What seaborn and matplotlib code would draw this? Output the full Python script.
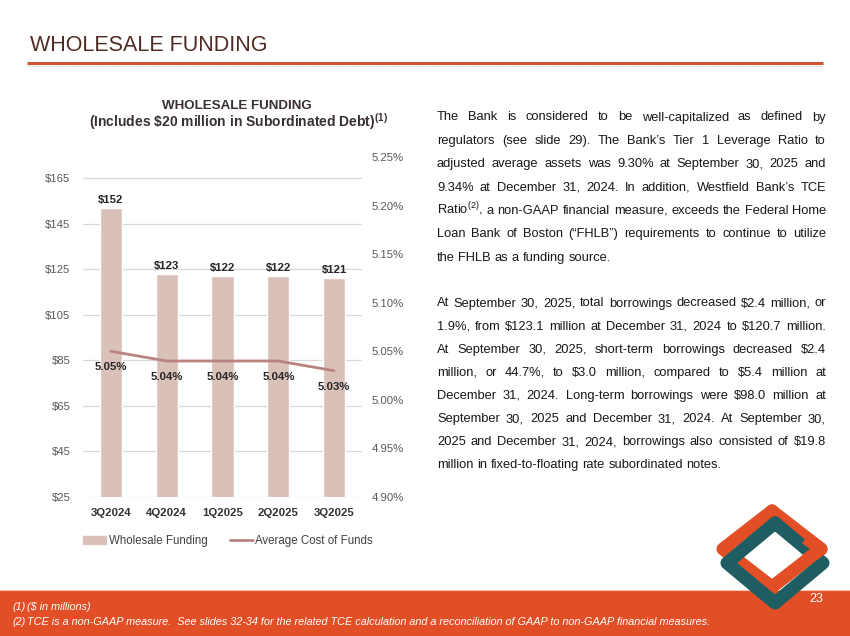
import numpy as np
import pandas as pd
import matplotlib.pyplot as plt
import seaborn as sns
from matplotlib.patches import Rectangle, Patch
from matplotlib.lines import Line2D

# valeurs
quarters = ['3Q2024', '4Q2024', '1Q2025', '2Q2025', '3Q2025']
funding = [152, 123, 122, 122, 121]
cost_of_funds = [5.05, 5.04, 5.04, 5.04, 5.03]
left_ticks = [25, 45, 65, 85, 105, 125, 145, 165]
right_ticks = [4.90, 4.95, 5.00, 5.05, 5.10, 5.15, 5.20, 5.25]

para1 = [
    "The Bank is considered to be well-capitalized as defined by",
    "regulators (see slide 29). The Bank’s Tier 1 Leverage Ratio to",
    "adjusted average assets was 9.30% at September 30, 2025 and",
    "9.34% at December 31, 2024. In addition, Westfield Bank’s TCE",
    "Ratio$^{(2)}$, a non-GAAP financial measure, exceeds the Federal Home",
    "Loan Bank of Boston (“FHLB”) requirements to continue to utilize",
    "the FHLB as a funding source.",
]
para2 = [
    "At September 30, 2025, total borrowings decreased $2.4 million, or",
    "1.9%, from $123.1 million at December 31, 2024 to $120.7 million.",
    "At September 30, 2025, short-term borrowings decreased $2.4",
    "million, or 44.7%, to $3.0 million, compared to $5.4 million at",
    "December 31, 2024. Long-term borrowings were $98.0 million at",
    "September 30, 2025 and December 31, 2024. At September 30,",
    "2025 and December 31, 2024, borrowings also consisted of $19.8",
    "million in fixed-to-floating rate subordinated notes.",
]
footnotes = [
    ("(1)", "($ in millions)"),
    ("(2)", "TCE is a non-GAAP measure.  See slides 32-34 for the related TCE calculation "
            "and a reconciliation of GAAP to non-GAAP financial measures."),
]

bar_c = '#D9C1B9'
line_c = '#B9837F'
orange = '#E24E26'
teal = '#1E5E62'
txt_c = '#1A1717'

sns.set_theme(style='white')
plt.rcParams['font.family'] = ['Liberation Sans', 'DejaVu Sans']
plt.rcParams['mathtext.fontset'] = 'custom'
plt.rcParams['mathtext.rm'] = 'Liberation Sans'
plt.rcParams['mathtext.it'] = 'Liberation Sans:italic'
plt.rcParams['mathtext.bf'] = 'Liberation Sans:bold'

fig = plt.figure(figsize=(8.5, 6.36), dpi=100)

# calque de décor en coordonnées pixels
deco = fig.add_axes([0, 0, 1, 1])
deco.set_xlim(0, 850)
deco.set_ylim(636, 0)
deco.axis('off')

deco.text(30, 51, 'WHOLESALE FUNDING', fontsize=15.5, color='#512B25', va='baseline')
deco.plot([27, 823], [63, 63], color='#D2532F', lw=2.2, solid_capstyle='butt')
deco.plot([27, 823], [66, 66], color='#CFC6C6', lw=0.8, ls=(0, (1, 1)))

# bandeau du bas
deco.add_patch(Rectangle((0, 590), 850, 46, color=orange, lw=0, zorder=1))
deco.plot([0, 850], [589.5, 589.5], color='#F3C3AE', lw=0.8, zorder=1)
for i, (num, txt) in enumerate(footnotes):
    y = 610 + i * 15
    deco.text(12, y, num, fontsize=7.8, style='italic', color='white', va='baseline', zorder=3)
    deco.text(27, y, txt, fontsize=7.8, style='italic', color='white', va='baseline',
              parse_math=False, zorder=3)
deco.text(823, 602, '23', fontsize=9, color='white', ha='right', va='baseline', zorder=3)

# logo : deux losanges entrelacés (orange décalé vers le haut)
def rhombus(cx, cy, hw, hh):
    return [cx, cx + hw, cx, cx - hw, cx], [cy - hh, cy, cy + hh, cy, cy - hh]

lw_logo = 9.4
deco.plot(*rhombus(772, 549, 49, 38), color=orange, lw=lw_logo,
          solid_joinstyle='round', solid_capstyle='round', zorder=2)
deco.plot(*rhombus(775, 563, 48, 40), color=teal, lw=lw_logo,
          solid_joinstyle='round', solid_capstyle='round', zorder=2.1)
deco.plot([806, 821, 806], [538, 549, 560], color=orange, lw=lw_logo,
          solid_joinstyle='round', solid_capstyle='butt', zorder=2.2)

# titre du graphique
deco.text(237, 109, 'WHOLESALE FUNDING', fontsize=9.6, fontweight='bold', color='#3A3030',
          ha='center', va='baseline')
deco.text(238, 126.5, r'(Includes \$20 million in Subordinated Debt)$^{\mathbf{(1)}}$', fontsize=10.0,
          fontweight='bold', color='#3A3030', ha='center', va='baseline')

# graphique
df = pd.DataFrame({'quarter': quarters, 'funding': funding, 'cost': cost_of_funds})

ax = fig.add_axes([83 / 850, 1 - 497 / 636, 279 / 850, 340 / 636])
ax.patch.set_alpha(0)
sns.barplot(data=df, x='quarter', y='funding', color=bar_c, saturation=1, width=0.4, ax=ax)
ax.set_xlim(-0.5, 4.5)
ax.set_ylim(25, 174.2)
ax.set_yticks(left_ticks)
ax.set_yticklabels([f'${v}' for v in left_ticks])
ax.grid(axis='y', color='#D9D9D9', lw=0.9)
ax.set_axisbelow(True)
for s in ax.spines.values():
    s.set_visible(False)
ax.set_xlabel('')
ax.set_ylabel('')
ax.tick_params(axis='y', length=0, pad=9, labelsize=8.2, labelcolor='#595959')
ax.tick_params(axis='x', length=0, pad=8, labelsize=8.2, labelcolor='#333333')
for lbl in ax.get_xticklabels():
    lbl.set_fontweight('bold')
ax.bar_label(ax.containers[0], labels=[f'${v}' for v in funding], padding=2,
             fontsize=8.2, fontweight='bold', color='#262626')

ax2 = ax.twinx()
sns.lineplot(data=df, x='quarter', y='cost', color=line_c, lw=2, sort=False, ax=ax2)
ax2.set_ylim(4.90, 5.25)
ax2.set_yticks(right_ticks)
ax2.set_yticklabels([f'{v:.2f}%' for v in right_ticks])
for s in ax2.spines.values():
    s.set_visible(False)
ax2.set_xlabel('')
ax2.set_ylabel('')
ax2.grid(False)
ax2.tick_params(axis='y', length=0, pad=7, labelsize=8.2, labelcolor='#595959')
for i, v in enumerate(cost_of_funds):
    ax2.annotate(f'{v:.2f}%', (i, v), xytext=(0, -11.5), textcoords='offset points',
                 ha='center', va='center', fontsize=8.2, fontweight='bold', color='#262626')

handles = [Patch(color=bar_c), Line2D([], [], color=line_c, lw=2)]
leg = fig.legend(handles, ['Wholesale Funding', 'Average Cost of Funds'], loc='center',
                 bbox_to_anchor=(228 / 850, 1 - 541 / 636), ncol=2, frameon=False, fontsize=8.3,
                 handlelength=2.0, handleheight=0.6, handletextpad=0.25, columnspacing=1.9)
for t in leg.get_texts():
    t.set_color('#404040')

# texte justifié à droite
renderer = fig.canvas.get_renderer()
X0, X1 = 437, 826

def measure(s, size):
    t = deco.text(0, 0, s, fontsize=size, parse_math=('$^' in s))
    w = t.get_window_extent(renderer).width
    t.remove()
    return w

def space_width(size):
    return measure('a a', size) - measure('aa', size)

# taille de police ajustée pour que la ligne la plus longue tienne juste dans la colonne
base = 10.0
sp = space_width(base)
widest = 0
for lines in (para1, para2):
    for line in lines[:-1]:
        words = line.split(' ')
        widest = max(widest, sum(measure(w, base) for w in words) + sp * (len(words) - 1))
para_size = base * (X1 - X0 - 1) / widest

def justified(lines, y0, step, size):
    sp = space_width(size)
    for i, line in enumerate(lines):
        y = y0 + i * step
        words = line.split(' ')
        arts = [deco.text(0, y, w, fontsize=size, color=txt_c, va='baseline',
                          parse_math=('$^' in w)) for w in words]
        widths = [a.get_window_extent(renderer).width for a in arts]
        if i == len(lines) - 1:
            gap = sp
        else:
            gap = (X1 - X0 - sum(widths)) / (len(words) - 1)
        x = X0
        for a, w in zip(arts, widths):
            a.set_x(x)
            x += w + gap

justified(para1, 120.5, 23.35, para_size)
justified(para2, 306.5, 23.1, para_size)

fig.savefig('out.png', dpi=100)
